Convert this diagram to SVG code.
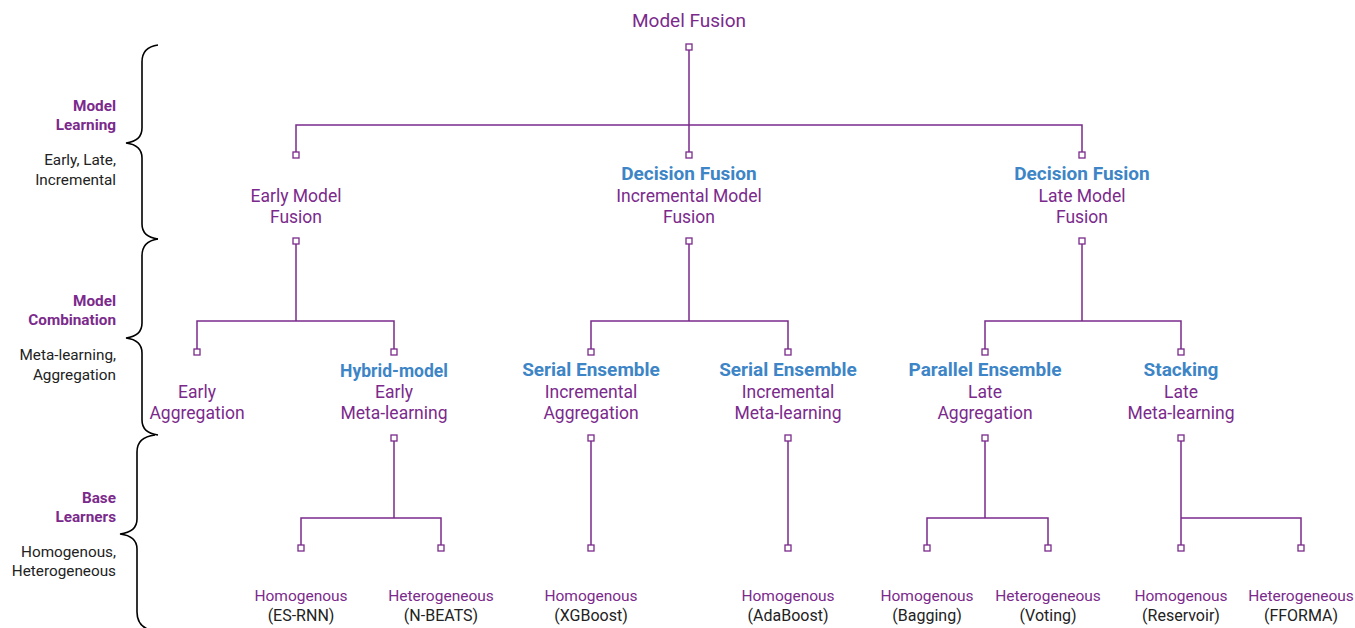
<svg xmlns="http://www.w3.org/2000/svg" width="1355" height="628" viewBox="0 0 1355 628">
<style>
text{font-family:Roboto,"Liberation Sans",sans-serif;text-anchor:middle}
.p{fill:#7b2a8c;font-size:17.5px}
.root{fill:#7b2a8c;font-size:19px}
.b{fill:#3d85c6;font-size:19px;font-weight:bold}
.lf{fill:#7b2a8c;font-size:15.5px}
.lk{fill:#222;font-size:16px}
.sh{fill:#7b2a8c;font-size:15.3px;font-weight:bold;text-anchor:end}
.sk{fill:#222;font-size:15.3px;text-anchor:end}
.c{fill:none;stroke:#7b2a8c;stroke-width:1.5}
.br{fill:none;stroke:#000;stroke-width:1.6}
.sq{fill:#fff;stroke:#7b2a8c;stroke-width:1.3}
</style>
<defs><rect id="s" x="-3" y="-3" width="6" height="6" class="sq"/></defs>
<g id="connectors">
<path class="c" d="M689 47V155M296 155V125H1082V155"/>
<path class="c" d="M296 241V321M197 352V321H394V352"/>
<path class="c" d="M689 241V321M591 352V321H788V352"/>
<path class="c" d="M1082 241V321M985 352V321H1181V352"/>
<path class="c" d="M394 438V518M301 548V518H441V548"/>
<path class="c" d="M591 438V548M788 438V548"/>
<path class="c" d="M985 438V518M927 548V518H1048V548"/>
<path class="c" d="M1181 438V548M1181 518H1301V548"/>
</g>
<g id="squares">
<use href="#s" x="689" y="47"/>
<use href="#s" x="296" y="155"/><use href="#s" x="689" y="155"/><use href="#s" x="1082" y="155"/>
<use href="#s" x="296" y="241"/><use href="#s" x="689" y="241"/><use href="#s" x="1082" y="241"/>
<use href="#s" x="197" y="352"/><use href="#s" x="394" y="352"/><use href="#s" x="591" y="352"/><use href="#s" x="788" y="352"/><use href="#s" x="985" y="352"/><use href="#s" x="1181" y="352"/>
<use href="#s" x="394" y="438"/><use href="#s" x="591" y="438"/><use href="#s" x="788" y="438"/><use href="#s" x="985" y="438"/><use href="#s" x="1181" y="438"/>
<use href="#s" x="301" y="548"/><use href="#s" x="441" y="548"/><use href="#s" x="591" y="548"/><use href="#s" x="788" y="548"/><use href="#s" x="927" y="548"/><use href="#s" x="1048" y="548"/><use href="#s" x="1181" y="548"/><use href="#s" x="1301" y="548"/>
</g>
<g id="braces">
<path class="br" d="M158 45Q142 47 142 62V128Q142 141 126 143Q142 145 142 158V224Q142 237 158 239"/>
<path class="br" d="M158 239Q142 241 142 256V323Q142 336 126 338Q142 340 142 353V420Q142 433 158 435"/>
<path class="br" d="M155 435Q137 437 137 452V519Q137 532 120 534Q137 536 137 549V612Q137 626 150 630"/>
</g>
<g id="side-labels">
<text class="sh" x="116" y="111">Model</text><text class="sh" x="116" y="130">Learning</text>
<text class="sk" x="116" y="165">Early, Late,</text><text class="sk" x="116" y="185">Incremental</text>
<text class="sh" x="116" y="306">Model</text><text class="sh" x="116" y="325">Combination</text>
<text class="sk" x="116" y="360">Meta-learning,</text><text class="sk" x="116" y="380">Aggregation</text>
<text class="sh" x="116" y="503">Base</text><text class="sh" x="116" y="522">Learners</text>
<text class="sk" x="116" y="557">Homogenous,</text><text class="sk" x="116" y="576">Heterogeneous</text>
</g>
<g id="n-root"><text class="root" x="689" y="27">Model Fusion</text></g>
<g id="n-early"><text class="p" x="296" y="202">Early Model</text><text class="p" x="296" y="223">Fusion</text></g>
<g id="n-incr"><text class="b" x="689" y="180">Decision Fusion</text><text class="p" x="689" y="202">Incremental Model</text><text class="p" x="689" y="223">Fusion</text></g>
<g id="n-late"><text class="b" x="1082" y="180">Decision Fusion</text><text class="p" x="1082" y="202">Late Model</text><text class="p" x="1082" y="223">Fusion</text></g>
<g id="n-early-agg"><text class="p" x="197" y="398">Early</text><text class="p" x="197" y="419">Aggregation</text></g>
<g id="n-hybrid"><text class="b" x="394" y="377" style="font-size:17.5px">Hybrid-model</text><text class="p" x="394" y="398">Early</text><text class="p" x="394" y="419">Meta-learning</text></g>
<g id="n-serial1"><text class="b" x="591" y="376">Serial Ensemble</text><text class="p" x="591" y="398">Incremental</text><text class="p" x="591" y="419">Aggregation</text></g>
<g id="n-serial2"><text class="b" x="788" y="376">Serial Ensemble</text><text class="p" x="788" y="398">Incremental</text><text class="p" x="788" y="419">Meta-learning</text></g>
<g id="n-parallel"><text class="b" x="985" y="376">Parallel Ensemble</text><text class="p" x="985" y="398">Late</text><text class="p" x="985" y="419">Aggregation</text></g>
<g id="n-stacking"><text class="b" x="1181" y="376">Stacking</text><text class="p" x="1181" y="398">Late</text><text class="p" x="1181" y="419">Meta-learning</text></g>
<g id="n-esrnn"><text class="lf" x="301" y="601">Homogenous</text><text class="lk" x="301" y="621">(ES-RNN)</text></g>
<g id="n-nbeats"><text class="lf" x="441" y="601">Heterogeneous</text><text class="lk" x="441" y="621">(N-BEATS)</text></g>
<g id="n-xgb"><text class="lf" x="591" y="601">Homogenous</text><text class="lk" x="591" y="621">(XGBoost)</text></g>
<g id="n-ada"><text class="lf" x="788" y="601">Homogenous</text><text class="lk" x="788" y="621">(AdaBoost)</text></g>
<g id="n-bag"><text class="lf" x="927" y="601">Homogenous</text><text class="lk" x="927" y="621">(Bagging)</text></g>
<g id="n-vote"><text class="lf" x="1048" y="601">Heterogeneous</text><text class="lk" x="1048" y="621">(Voting)</text></g>
<g id="n-res"><text class="lf" x="1181" y="601">Homogenous</text><text class="lk" x="1181" y="621">(Reservoir)</text></g>
<g id="n-fforma"><text class="lf" x="1301" y="601">Heterogeneous</text><text class="lk" x="1301" y="621">(FFORMA)</text></g>
</svg>
